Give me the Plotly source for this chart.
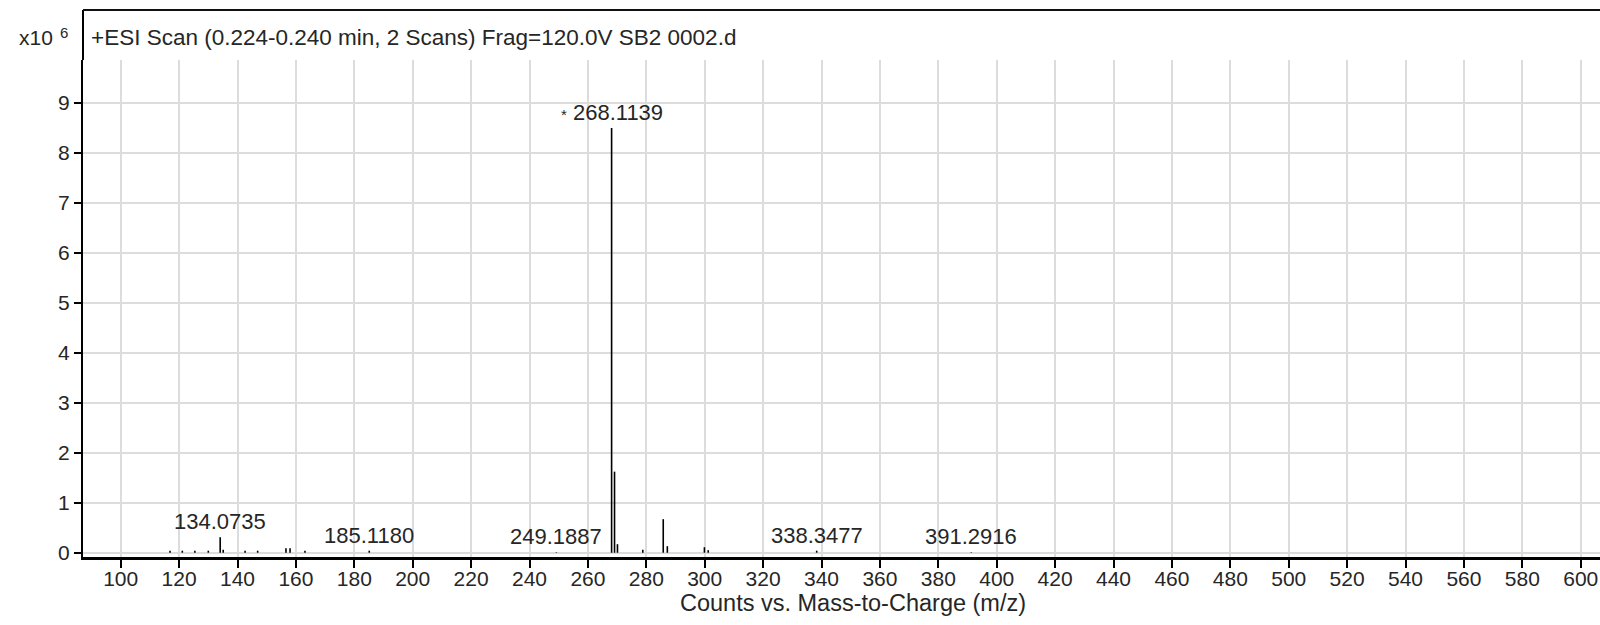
import plotly.graph_objects as go

# Centroided MS peaks: m/z and intensity (counts, x10^6)
mz_values = [116.9, 121.1, 125.4, 130.0, 134.0735, 135.1, 142.6, 146.9, 156.6, 158.0,
             163.1, 185.1180, 249.1887, 268.1139, 269.1170, 270.12, 278.8, 285.8,
             287.2, 299.9, 301.2, 338.3477, 391.2916]
intensity_e6 = [0.04, 0.04, 0.04, 0.04, 0.31, 0.06, 0.04, 0.04, 0.09, 0.09,
                0.04, 0.04, 0.01, 8.49, 1.62, 0.17, 0.06, 0.67,
                0.13, 0.11, 0.05, 0.04, 0.01]

# Peaks that carry an m/z label ("*" marks the base peak)
labeled_mz = [134.0735, 185.1180, 249.1887, 268.1139, 338.3477, 391.2916]
base_peak_mz = 268.1139

x_ticks = list(range(100, 601, 20))
y_ticks = list(range(0, 10))

title_text = "+ESI Scan (0.224-0.240 min, 2 Scans) Frag=120.0V SB2 0002.d"
x_title = "Counts vs. Mass-to-Charge (m/z)"

FONT = "Liberation Sans, Arial, sans-serif"
TXT = "#262626"

W, H = 1600, 625
L, T, B = 83, 60, 68
plot_w = W - L
plot_h = H - T - B


def px_x(p):
    return (p - L) / plot_w


def px_y(p):
    return (H - B - p) / plot_h


# Build sticks: one segment from 0 to the intensity for each peak
xs, ys = [], []
for m, h in zip(mz_values, intensity_e6):
    xs += [m, m, None]
    ys += [0, h, None]

fig = go.Figure()
fig.add_trace(go.Scatter(x=xs, y=ys, mode="lines",
                         line=dict(color="black", width=1.6),
                         hoverinfo="skip", showlegend=False))

annotations = []
for m in labeled_mz:
    h = intensity_e6[mz_values.index(m)]
    label = f"{m:.4f}"
    if m == base_peak_mz:
        label = "<span style='font-size:15px'>*</span> " + label
    annotations.append(dict(x=m, y=h, xref="x", yref="y", text=label,
                            showarrow=False, yanchor="bottom", xanchor="center",
                            yshift=1, font=dict(family=FONT, size=22, color=TXT)))

annotations.append(dict(x=px_x(89), y=px_y(37), xref="paper", yref="paper",
                        text=title_text, showarrow=False, xanchor="left", yanchor="middle",
                        font=dict(family=FONT, size=22.5, color=TXT)))
annotations.append(dict(x=px_x(55), y=px_y(38), xref="paper", yref="paper",
                        text="x10", showarrow=False, xanchor="right", yanchor="middle",
                        font=dict(family=FONT, size=21, color=TXT)))
annotations.append(dict(x=px_x(58), y=px_y(33), xref="paper", yref="paper",
                        text="6", showarrow=False, xanchor="left", yanchor="middle",
                        font=dict(family=FONT, size=15, color=TXT)))
annotations.append(dict(x=px_x(853), y=px_y(603), xref="paper", yref="paper",
                        text=x_title, showarrow=False, xanchor="center", yanchor="middle",
                        font=dict(family=FONT, size=23.5, color=TXT)))

# Header band frame above the plotting area
top_y = px_y(10)
shapes = [
    dict(type="line", xref="paper", yref="paper", x0=0, x1=0, y0=1, y1=top_y,
         line=dict(color="black", width=2)),
    dict(type="line", xref="paper", yref="paper", x0=0, x1=1, y0=top_y, y1=top_y,
         line=dict(color="#111111", width=2)),
]

fig.update_layout(
    width=W, height=H,
    margin=dict(l=L, r=0, t=T, b=B, pad=0),
    paper_bgcolor="white", plot_bgcolor="white",
    annotations=annotations, shapes=shapes,
    font=dict(family=FONT, size=21, color=TXT),
)
fig.update_xaxes(range=[87.09, 606.6], tickvals=x_ticks, ticktext=[str(v) for v in x_ticks],
                 showgrid=True, gridcolor="#dcdcdc", gridwidth=1.5,
                 showline=True, linecolor="black", linewidth=3,
                 ticks="outside", ticklen=8, tickwidth=2, tickcolor="black",
                 ticklabelstandoff=-7,
                 tickfont=dict(family=FONT, size=21, color=TXT), zeroline=False)
fig.update_yaxes(range=[-0.086, 9.85], tickvals=y_ticks, ticktext=[str(v) for v in y_ticks],
                 showgrid=True, gridcolor="#dcdcdc", gridwidth=1.5,
                 showline=True, linecolor="black", linewidth=2,
                 ticks="outside", ticklen=7, tickwidth=1.5, tickcolor="black",
                 tickfont=dict(family=FONT, size=21, color=TXT), zeroline=False)

fig.write_html("out.html")
